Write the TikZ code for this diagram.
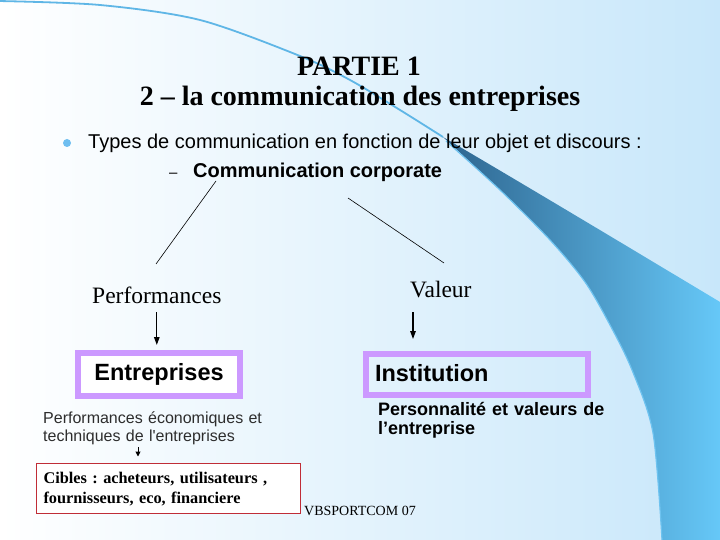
\documentclass[tikz,border=0pt]{standalone}
\usepackage{fontspec}
\setmainfont{Liberation Serif}
\setsansfont{Liberation Sans}
\usetikzlibrary{arrows.meta}
\definecolor{bgblue}{RGB}{200,231,250}
\definecolor{swdark}{RGB}{45,100,142}
\definecolor{swmid}{RGB}{86,170,222}
\definecolor{swlight}{RGB}{102,200,248}
\definecolor{swedge}{RGB}{110,195,240}
\definecolor{thinblue}{RGB}{95,182,230}
\definecolor{bulletblue}{RGB}{110,190,240}
\definecolor{boxpurple}{RGB}{204,153,255}
\definecolor{boxred}{RGB}{192,45,55}
\definecolor{darkgraytext}{RGB}{45,45,45}
\frenchspacing
\tikzset{
  txt/.style={inner sep=0pt},
  titlefont/.style={txt,font=\bfseries\fontsize{28bp}{33bp}\selectfont},
  bodyfont/.style={txt,font=\sffamily\fontsize{20bp}{24bp}\selectfont},
  bodybold/.style={txt,font=\sffamily\bfseries\fontsize{20bp}{24bp}\selectfont},
  seriflabel/.style={txt,font=\fontsize{23.5bp}{28bp}\selectfont},
  purplebox/.style={draw=boxpurple,line width=6bp,inner ysep=0pt,
    font=\sffamily\bfseries\fontsize{23.5bp}{28bp}\selectfont},
  smallsans/.style={txt,text=darkgraytext,font=\sffamily\fontsize{16bp}{18.5bp}\selectfont},
  smallbold/.style={txt,font=\sffamily\bfseries\fontsize{18bp}{19bp}\selectfont},
  redbox/.style={draw=boxred,line width=1bp,fill=white,inner ysep=0pt,
    font=\bfseries\fontsize{16.3bp}{19.5bp}\selectfont},
  arr/.style={line width=1.3bp,-{Triangle[length=8bp,width=5.5bp]}},
  smallarr/.style={line width=1bp,-{Triangle[length=5bp,width=5bp]}},
  connector/.style={line width=0.6bp},
}
\begin{document}
\begin{tikzpicture}[x=1bp,y=-1bp]
\useasboundingbox (0,0) rectangle (720,540);
% background
\shade[left color=white,right color=bgblue] (0,0) rectangle (720,540);
% swoosh
\shade[left color=swdark,middle color=swmid,right color=swlight]
  (443,137) .. controls (530,188) and (630,248) .. (720,302)
  -- (720,540) -- (662,540)
  -- plot[smooth] coordinates {(662,540) (653,433) (632,370) (610,325) (585,282) (550,240) (500,190) (443,137)}
  -- cycle;
\draw[swedge,line width=1.2bp] plot[smooth] coordinates {(662,540) (653,433) (632,370) (610,325) (585,282) (550,240) (500,190) (446,141)};
\draw[thinblue,line width=1.8bp] plot[smooth] coordinates {(-2,1) (100,5) (200,20) (300,56) (350,80) (400,110) (443,137)};
% title
\node[titlefont,anchor=base] (t1) at (359,76) {PARTIE 1};
\node[titlefont,anchor=base] (t2) at (360,106) {2 – la communication des entreprises};
% bullet
\node[circle,fill=bulletblue,minimum size=8bp,inner sep=0pt] (bul) at (67,143) {};
\node[bodyfont,anchor=base west] (types) at (88,149) {Types de communication en fonction de leur objet et discours :};
\node[txt,font=\sffamily\fontsize{15bp}{18bp}\selectfont,anchor=base west] (dash) at (169,178) {–};
\node[bodybold,anchor=base west] (corp) at (193,178) {Communication corporate};
% connector lines
\coordinate (c1a) at (216,181);
\coordinate (c1b) at (156,264);
\coordinate (c2a) at (348,198);
\coordinate (c2b) at (444,263);
\draw[connector] (c1a) -- (c1b);
\draw[connector] (c2a) -- (c2b);
% labels
\node[seriflabel,anchor=base west] (perf) at (92,303) {Performances};
\node[seriflabel,anchor=base west] (val) at (410,297) {Valeur};
% boxes
\node[purplebox,fill=white,minimum width=162bp,inner xsep=0pt,text height=27bp,text depth=16bp,align=center] (ent) at (159,374.5) {Entreprises};
\node[purplebox,inner xsep=9bp,text width=204bp,text height=27bp,text depth=14bp,align=left] (inst) at (477,374.5) {Institution};
% arrows
\draw[arr,shorten <=9bp,shorten >=5bp] (perf.south) -- (perf.south |- ent.north);
\coordinate (va) at (413,312);
\draw[arr,shorten >=12bp] (va) -- (va |- inst.north);
% descriptions
\node[smallsans,anchor=base west,text width=240bp,align=left] (pe) at (43,423) {Performances économiques et\\techniques de l\textquotesingle entreprises};
\node[smallbold,anchor=base west,text width=240bp,align=left] (pers) at (378,415) {Personnalité et valeurs de\\l’entreprise};
% cibles box
\node[redbox,anchor=north west,inner xsep=7.5bp,text width=249bp,text height=20.5bp,text depth=29.5bp,align=left] (cib) at (35.5,462.5) {Cibles : acheteurs, utilisateurs ,\\fournisseurs, eco, financiere};
\coordinate (sa) at (138,447);
\draw[smallarr,shorten >=6bp] (sa) -- (sa |- cib.north);
% footer
\node[txt,font=\fontsize{14bp}{16bp}\selectfont,anchor=base west] (vbs) at (304,515) {VBSPORTCOM 07};
\end{tikzpicture}
\end{document}
